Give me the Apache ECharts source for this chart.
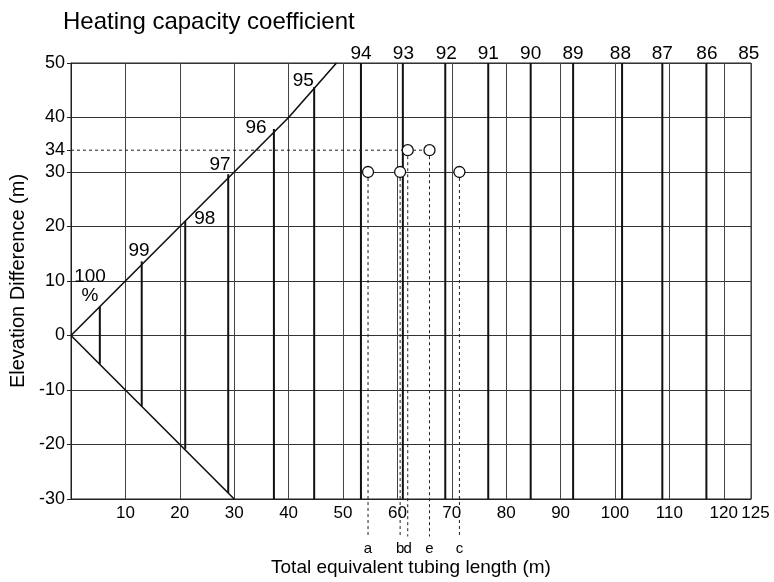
<!DOCTYPE html>
<html>
<head>
<meta charset="utf-8">
<script src="https://cdn.jsdelivr.net/npm/echarts@6/dist/echarts.min.js"></script>
<style>html,body{margin:0;padding:0;background:#fff}#c{width:774px;height:582px}</style>
</head>
<body>
<div id="c"></div>
<script>
// ---- data ----
const xTickLabels = [10, 20, 30, 40, 50, 60, 70, 80, 90, 100, 110, 120];
const xEndLabel = [125];
const yExtraTick = [34];

// boundary lines of the coefficient wedge
const upperBoundary = [[0, 0], [40, 40], [48.8, 50]];
const lowerBoundary = [[0, 0], [30, -30]];

// coefficient iso-lines (vertical segments)
const coefLineX      = [5.3, 13.0, 21.0, 28.9, 37.3, 44.7, 53.3, 61.0, 68.8, 76.7, 84.5, 92.3, 101.3, 108.7, 116.8];
const coefLineBottom = [-5.2, -13.0, -20.8, -28.9, -30, -30, -30, -30, -30, -30, -30, -30, -30, -30, -30];
const coefLineTop    = [5.3, 13.6, 21.0, 29.6, 37.9, 45.6, 50, 50, 50, 50, 50, 50, 50, 50, 50];

// coefficient labels
const coefNames  = ['100\n%', '99', '98', '97', '96', '95', '94', '93', '92', '91', '90', '89', '88', '87', '86', '85'];
const coefLabelX = [3.5, 12.5, 24.6, 27.4, 34.0, 42.7, 53.3, 61.1, 69.0, 76.7, 84.5, 92.3, 101.0, 108.7, 116.9, 124.6];
const coefLabelY = [9.0, 15.6, 21.4, 31.4, 38.1, 46.8, 51.7, 51.7, 51.7, 51.7, 51.7, 51.7, 51.7, 51.7, 51.7, 51.7];

// example points
const pointNames = ['a', 'b', 'c', 'd', 'e'];
const pointX = [54.6, 60.5, 71.4, 61.9, 65.9];
const pointY = [30, 30, 30, 34, 34];
const guideBottomY = -36.9;
const letterY = -39.2;

// ---- build ----
const FONT = "'Liberation Sans', Arial, sans-serif";
const coefSegments = coefLineX.map((x, i) => [x, coefLineBottom[i], x, coefLineTop[i]]);
const dashSegments = pointX.map((x, i) => [x, pointY[i], x, guideBottomY]);
dashSegments.push([0, 34, pointX[4], 34]);

function segRender(color, width, dash) {
  return function (params, api) {
    const p1 = api.coord([api.value(0), api.value(1)]);
    const p2 = api.coord([api.value(2), api.value(3)]);
    return {
      type: 'line',
      shape: { x1: p1[0], y1: p1[1], x2: p2[0], y2: p2[1] },
      style: { stroke: color, lineWidth: width, lineDash: dash || null }
    };
  };
}

const labelTxt = { fontSize: 18, color: '#000', margin: 6, fontFamily: FONT, hideOverlap: false };
const xLabelTxt = { fontSize: 17, color: '#000', margin: 6, fontFamily: FONT, hideOverlap: false };

const chart = echarts.init(document.getElementById('c'), null, { renderer: 'canvas' });
chart.setOption({
  backgroundColor: '#fff',
  animation: false,
  textStyle: { fontFamily: FONT },
  title: {
    text: 'Heating capacity coefficient',
    left: 58, top: 5,
    textStyle: { fontSize: 24, fontWeight: 'normal', color: '#000', fontFamily: FONT }
  },
  grid: {
    left: 71, right: 23, top: 63, bottom: 83,
    outerBoundsMode: 'none', containLabel: false,
    show: true, borderColor: '#222', borderWidth: 1, backgroundColor: 'transparent'
  },
  xAxis: [{
    type: 'value', min: 0, max: 125, interval: 10,
    name: 'Total equivalent tubing length (m)',
    nameLocation: 'middle', nameGap: 59,
    nameTextStyle: { fontSize: 19, color: '#000', fontFamily: FONT },
    axisLine: { onZero: false, lineStyle: { color: '#222', width: 1 } },
    axisTick: { show: false },
    axisLabel: Object.assign({ customValues: xTickLabels }, xLabelTxt),
    splitLine: { show: true, lineStyle: { color: '#444', width: 1 } }
  }, {
    type: 'value', min: 0, max: 125, position: 'bottom', offset: 0,
    axisLine: { show: false, onZero: false },
    axisTick: { show: false },
    axisLabel: Object.assign({ customValues: xEndLabel, padding: [0, 0, 0, 9] }, xLabelTxt),
    splitLine: { show: false }
  }],
  yAxis: [{
    type: 'value', min: -30, max: 50, interval: 10,
    name: 'Elevation Difference (m)',
    nameLocation: 'middle', nameGap: 39, nameRotate: 90,
    nameTextStyle: { fontSize: 20, color: '#000', fontFamily: FONT },
    axisLine: { onZero: false, lineStyle: { color: '#222', width: 1 } },
    axisTick: { show: true, length: 4, lineStyle: { color: '#222' } },
    axisLabel: labelTxt,
    splitLine: { show: true, lineStyle: { color: '#333', width: 1 } }
  }, {
    type: 'value', min: -30, max: 50, position: 'left', offset: 0,
    axisLine: { show: false, onZero: false },
    axisTick: { show: true, length: 4, customValues: yExtraTick, lineStyle: { color: '#222' } },
    axisLabel: Object.assign({ customValues: yExtraTick }, labelTxt),
    splitLine: { show: false }
  }],
  series: [
    {
      type: 'line', data: upperBoundary, symbol: 'none', silent: true,
      lineStyle: { color: '#111', width: 1.6 }, clip: false
    },
    {
      type: 'line', data: lowerBoundary, symbol: 'none', silent: true,
      lineStyle: { color: '#111', width: 1.6 }, clip: false
    },
    {
      type: 'custom', data: coefSegments, renderItem: segRender('#111', 2),
      encode: { x: [0, 2], y: [1, 3] }, clip: false, silent: true
    },
    {
      type: 'custom', data: dashSegments, renderItem: segRender('#222', 1, [3, 3]),
      encode: { x: [0, 2], y: [1, 3] }, clip: false, silent: true, z: 3
    },
    {
      type: 'scatter', clip: false, silent: true, z: 5,
      symbol: 'circle', symbolSize: 11,
      itemStyle: { color: '#fff', borderColor: '#111', borderWidth: 1.3, opacity: 1 },
      data: pointX.map((x, i) => [x, pointY[i]])
    },
    {
      type: 'scatter', clip: false, silent: true, symbolSize: 0,
      itemStyle: { color: '#000', opacity: 1 },
      data: coefNames.map((n, i) => ({ value: [coefLabelX[i], coefLabelY[i]], name: n })),
      label: {
        show: true, position: 'inside', formatter: p => p.name,
        fontSize: 19, color: '#000', lineHeight: 19, fontFamily: FONT,
        textBorderWidth: 0, textBorderColor: 'transparent'
      }
    },
    {
      type: 'scatter', clip: false, silent: true, symbolSize: 0,
      itemStyle: { color: '#000', opacity: 1 },
      data: pointNames.map((n, i) => ({ value: [pointX[i], letterY], name: n })),
      label: {
        show: true, position: 'inside', formatter: p => p.name,
        fontSize: 15, color: '#000', fontFamily: FONT,
        textBorderWidth: 0, textBorderColor: 'transparent'
      }
    }
  ]
});
</script>
</body>
</html>
